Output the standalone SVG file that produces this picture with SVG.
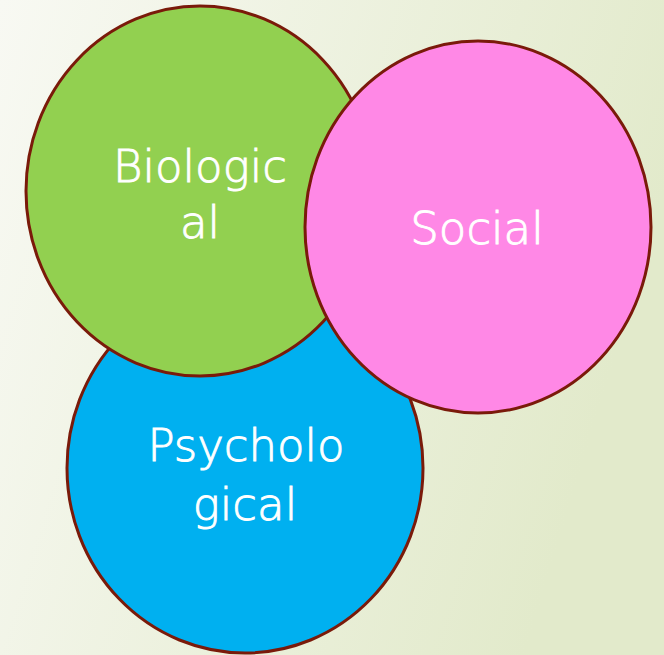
<svg xmlns="http://www.w3.org/2000/svg" width="664" height="655" viewBox="0 0 664 655">
<defs>
<linearGradient id="bg" x1="0" y1="0" x2="1" y2="0.3">
<stop offset="0" stop-color="#F8F9F3"/>
<stop offset="1" stop-color="#E2EACB"/>
</linearGradient>
</defs>
<style>
.c{stroke:#7A1A0A;stroke-width:3}
.t{fill:#FFFFFF;stroke:#FFFFFF;stroke-width:0.9;font-family:"DejaVu Sans","Lato",sans-serif;font-weight:200;font-size:45px;text-anchor:middle}
</style>
<rect width="664" height="655" fill="url(#bg)"/>
<g id="psychological">
<ellipse class="c" cx="245" cy="468" rx="178" ry="185" fill="#00B0F0"/>
<text class="t" x="246" y="461">Psycholo</text>
<text class="t" x="245" y="520">gical</text>
</g>
<g id="biological">
<ellipse class="c" cx="200" cy="191" rx="174" ry="185" fill="#92D050"/>
<text class="t" x="200" y="182">Biologic</text>
<text class="t" x="200" y="238">al</text>
</g>
<g id="social">
<ellipse class="c" cx="478" cy="227" rx="173" ry="186" fill="#FF88E6"/>
<text class="t" x="477" y="244">Social</text>
</g>
<g id="connectors"/>
</svg>
